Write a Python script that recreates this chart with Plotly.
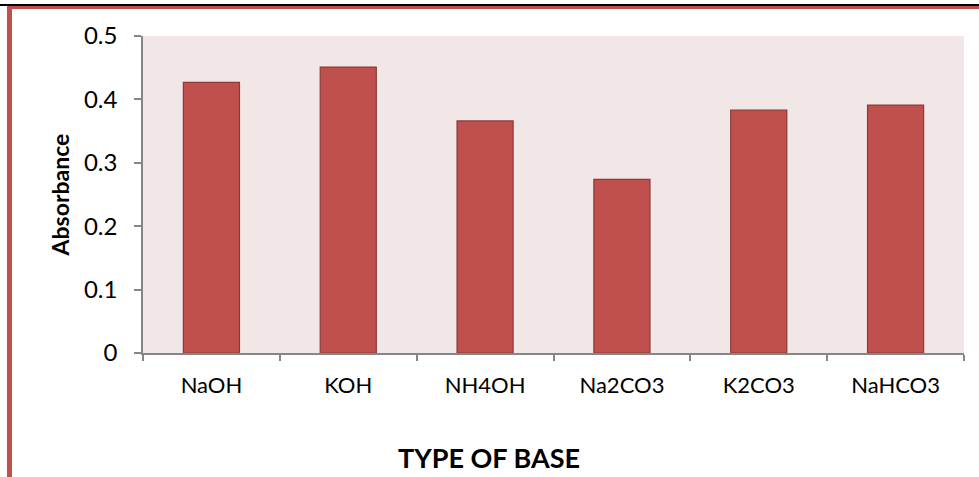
import plotly.graph_objects as go

bases = ["NaOH", "KOH", "NH4OH", "Na2CO3", "K2CO3", "NaHCO3"]
absorbance = [0.427, 0.451, 0.366, 0.274, 0.383, 0.391]
y_ticks = [0, 0.1, 0.2, 0.3, 0.4, 0.5]
y_tick_text = ["0", "0.1", "0.2", "0.3", "0.4", "0.5"]

W, H = 979, 477
L, R, T, B = 143, 15, 36, 124
pw, ph = W - L - R, H - T - B


def px_x(px):
    return (px - L) / pw


def px_y(py):
    return (H - B - py) / ph


fig = go.Figure(
    go.Bar(
        x=bases,
        y=absorbance,
        marker=dict(color="#C0504D", line=dict(color="#8C3A38", width=1.2)),
    )
)

font_family = "Lato, Open Sans, sans-serif"

fig.update_layout(
    width=W,
    height=H,
    margin=dict(l=L, r=R, t=T, b=B),
    paper_bgcolor="white",
    plot_bgcolor="#F2E7E7",
    bargap=0.59,
    showlegend=False,
    font=dict(family=font_family, color="black"),
    xaxis=dict(
        showline=True,
        linecolor="#868686",
        linewidth=1.5,
        ticks="outside",
        tickson="boundaries",
        ticklen=6,
        tickcolor="#868686",
        tickwidth=1.5,
        tickfont=dict(size=22),
        ticklabelstandoff=12,
        showgrid=False,
    ),
    yaxis=dict(
        range=[0, 0.5],
        tickvals=y_ticks,
        ticktext=y_tick_text,
        showline=True,
        linecolor="#868686",
        linewidth=1.5,
        ticks="outside",
        ticklen=7,
        tickcolor="#868686",
        tickwidth=1.5,
        tickfont=dict(size=24),
        ticklabelstandoff=12,
        showgrid=False,
        zeroline=False,
        title=dict(text="<b>Absorbance</b>", font=dict(size=23), standoff=8),
    ),
    annotations=[
        # x-axis title, centred on the whole page
        dict(text="<b>TYPE OF BASE</b>", xref="paper", yref="paper",
             x=px_x(489), y=px_y(457), xanchor="center", yanchor="middle",
             showarrow=False, font=dict(size=27)),
    ],
    shapes=[
        # frame lines around the page
        dict(type="line", xref="paper", yref="paper",
             x0=px_x(0), x1=px_x(W), y0=px_y(5), y1=px_y(5),
             line=dict(color="black", width=2)),
        dict(type="line", xref="paper", yref="paper",
             x0=px_x(7), x1=px_x(W), y0=px_y(7.5), y1=px_y(7.5),
             line=dict(color="#C0504D", width=3)),
        dict(type="line", xref="paper", yref="paper",
             x0=px_x(9.5), x1=px_x(9.5), y0=px_y(6), y1=px_y(H),
             line=dict(color="#C0504D", width=5)),
    ],
)

fig.write_html("out.html")
